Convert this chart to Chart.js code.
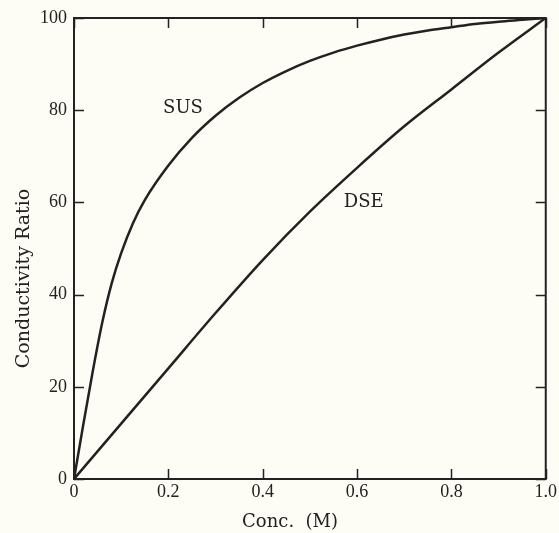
<!DOCTYPE html>
<html>
<head>
<meta charset="utf-8">
<script src="https://cdn.jsdelivr.net/npm/chart.js@4.4.1/dist/chart.umd.min.js"></script>
<style>
html,body{margin:0;padding:0;background:#fdfdf6;}
#wrap{width:559px;height:533px;position:relative;}
</style>
</head>
<body>
<div id="wrap"><canvas id="c" width="559" height="533"></canvas></div>
<script>
// Data
const susConc  = [0, 0.02, 0.04, 0.06, 0.08, 0.10, 0.125, 0.15, 0.20, 0.25, 0.30, 0.35, 0.40, 0.45, 0.50, 0.55, 0.60, 0.65, 0.70, 0.75, 0.80, 0.85, 0.90, 0.95, 1.00];
const susRatio = [0, 12, 23.5, 34, 42.5, 49, 55.5, 60.5, 68, 74, 78.8, 82.7, 85.9, 88.5, 90.7, 92.5, 94, 95.3, 96.4, 97.3, 98, 98.7, 99.2, 99.6, 100];
const dseConc  = [0, 0.1, 0.2, 0.3, 0.4, 0.5, 0.6, 0.7, 0.8, 0.9, 1.0];
const dseRatio = [0, 12, 24, 36, 47.5, 58, 67.5, 76.5, 84.5, 92.5, 100];
const xTicks = [0, 0.2, 0.4, 0.6, 0.8, 1.0];
const yTicks = [0, 20, 40, 60, 80, 100];
const curveNames = ["SUS", "DSE"];
const curveLabelX = [0.231, 0.614];
const curveLabelY = [80.5, 60.1];
const xTitle = "Conc.  (M)";
const yTitle = "Conductivity Ratio";

const ink = "#222222";
const tickFont = "'Liberation Serif', 'DejaVu Serif', serif";
const textFont = "'DejaVu Serif', 'Liberation Serif', serif";

function pts(xs, ys){ return xs.map((x,i)=>({x:x, y:ys[i]})); }

const frame = {
  id: 'frame',
  beforeDraw(chart){
    const ctx = chart.ctx;
    ctx.save();
    ctx.fillStyle = '#fdfdf6';
    ctx.fillRect(0,0,chart.width,chart.height);
    ctx.restore();
  },
  afterDatasetsDraw(chart){
    const {ctx, chartArea:a, scales:{x, y}} = chart;
    ctx.save();
    ctx.strokeStyle = ink;
    ctx.lineWidth = 2;
    ctx.strokeRect(a.left, a.top, a.right - a.left, a.bottom - a.top);
    ctx.lineWidth = 1.5;
    const tl = 10;
    xTicks.forEach(v=>{
      const px = Math.round(x.getPixelForValue(v)) + 0.5;
      ctx.beginPath();
      ctx.moveTo(px, a.bottom); ctx.lineTo(px, a.bottom - tl);
      ctx.moveTo(px, a.top); ctx.lineTo(px, a.top + tl);
      ctx.stroke();
    });
    yTicks.forEach(v=>{
      const py = Math.round(y.getPixelForValue(v)) + 0.5;
      ctx.beginPath();
      ctx.moveTo(a.left, py); ctx.lineTo(a.left + tl, py);
      ctx.moveTo(a.right, py); ctx.lineTo(a.right - tl, py);
      ctx.stroke();
    });
    ctx.fillStyle = ink;
    ctx.textAlign = 'center';
    ctx.textBaseline = 'middle';
    ctx.font = "18px " + textFont;
    curveNames.forEach((t,i)=>{
      ctx.fillText(t, x.getPixelForValue(curveLabelX[i]), y.getPixelForValue(curveLabelY[i]));
    });
    // axis titles
    ctx.fillText(xTitle, x.getPixelForValue(0.458), chart.height - 11);
    ctx.save();
    ctx.translate(24, y.getPixelForValue(43.5));
    ctx.rotate(-Math.PI/2);
    ctx.font = "19px " + textFont;
    ctx.fillText(yTitle, 0, 0);
    ctx.restore();
    ctx.restore();
  }
};

new Chart(document.getElementById('c'), {
  type: 'line',
  data: {
    datasets: [
      { label: curveNames[0], data: pts(susConc, susRatio), borderColor: ink, borderWidth: 2.5, pointRadius: 0, cubicInterpolationMode: 'monotone', fill: false },
      { label: curveNames[1], data: pts(dseConc, dseRatio), borderColor: ink, borderWidth: 2.5, pointRadius: 0, cubicInterpolationMode: 'monotone', fill: false }
    ]
  },
  options: {
    responsive: false,
    animation: false,
    events: [],
    layout: { padding: { top: 18, right: 13, left: 0, bottom: 0 } },
    plugins: { legend: { display: false }, tooltip: { enabled: false } },
    scales: {
      x: {
        type: 'linear', min: 0, max: 1,
        afterBuildTicks(s){ s.ticks = xTicks.map(v=>({value:v})); },
        afterFit(s){ s.height = 54; },
        grid: { display: false, drawTicks: false },
        border: { display: false },
        ticks: { color: ink, font: { family: tickFont, size: 18 }, padding: 2, maxRotation: 0,
                 callback: v => v === 0 ? '0' : (v === 1 ? '1.0' : v.toFixed(1)) },
        title: { display: false }
      },
      y: {
        type: 'linear', min: 0, max: 100,
        afterBuildTicks(s){ s.ticks = yTicks.map(v=>({value:v})); },
        afterFit(s){ s.width = 74; },
        grid: { display: false, drawTicks: false },
        border: { display: false },
        ticks: { color: ink, font: { family: tickFont, size: 18 }, padding: 7 },
        title: { display: false }
      }
    }
  },
  plugins: [frame]
});
</script>
</body>
</html>
